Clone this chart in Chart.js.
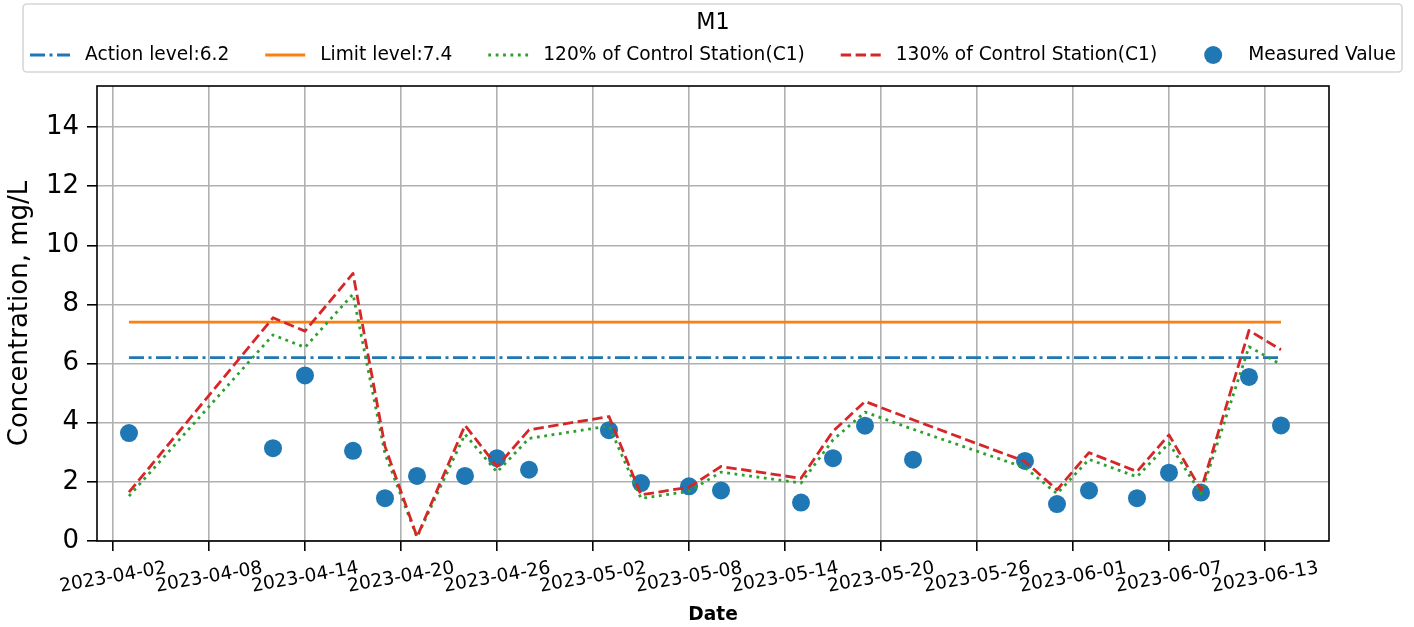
<!DOCTYPE html>
<html>
<head>
<meta charset="utf-8">
<script src="https://cdn.jsdelivr.net/npm/chart.js@4.4.0/dist/chart.umd.min.js"></script>
<style>
html,body{margin:0;padding:0;background:#fff;}
#wrap{width:1414px;height:627px;position:relative;}
</style>
</head>
<body>
<div id="wrap"><canvas id="c" width="1414" height="627"></canvas></div>
<script>
// ---------------- data ----------------
const chartTitle = 'M1';
const xAxisTitle = 'Date';
const yAxisTitle = 'Concentration, mg/L';

const dates = ['2023-04-03','2023-04-12','2023-04-14','2023-04-17','2023-04-19','2023-04-21','2023-04-24','2023-04-26','2023-04-28',
  '2023-05-03','2023-05-05','2023-05-08','2023-05-10','2023-05-15','2023-05-17','2023-05-19','2023-05-22','2023-05-29','2023-05-31',
  '2023-06-02','2023-06-05','2023-06-07','2023-06-09','2023-06-12','2023-06-14'];

const measuredValues = [3.65,3.14,5.60,3.05,1.45,2.20,2.20,2.80,2.41,3.75,1.96,1.85,1.71,1.30,2.80,3.90,2.75,2.71,1.25,1.71,1.45,2.31,1.64,5.55,3.91];

const control120 = [1.52,6.97,6.55,8.35,2.95,0.13,3.61,2.33,3.47,3.89,1.44,1.68,2.33,1.96,3.42,4.36,3.78,2.48,1.60,2.76,2.17,3.31,1.60,6.57,5.97];

const control130 = [1.65,7.55,7.10,9.05,3.20,0.14,3.91,2.52,3.76,4.21,1.56,1.82,2.52,2.12,3.71,4.72,4.10,2.69,1.73,2.99,2.35,3.59,1.73,7.12,6.47];

const actionLevel = 6.2;
const limitLevel = 7.4;

const seriesLabels = ['Action level:6.2','Limit level:7.4','120% of Control Station(C1)','130% of Control Station(C1)','Measured Value'];

const xTickDates = ['2023-04-02','2023-04-08','2023-04-14','2023-04-20','2023-04-26','2023-05-02','2023-05-08',
  '2023-05-14','2023-05-20','2023-05-26','2023-06-01','2023-06-07','2023-06-13'];
const xRange = ['2023-04-01','2023-06-17'];
const yTicks = [0,2,4,6,8,10,12,14];
const yRange = [0, 15.39];

// ---------------- helpers ----------------
const FONT = '"DejaVu Sans", "Liberation Sans", sans-serif';
const DAY = 86400000;
const ORIGIN = Date.UTC(2023,3,2);
const toDay = s => (Date.parse(s + 'T00:00:00Z') - ORIGIN) / DAY;
const pts = vals => dates.map((d,i) => ({x: toDay(d), y: vals[i]}));
const flat = v => [{x: toDay(dates[0]), y: v}, {x: toDay(dates[dates.length-1]), y: v}];

const LW = 2.8;

const customPlugin = {
  id: 'customDraw',
  afterDatasetsDraw(chart) {
    const {ctx, chartArea: a} = chart;
    ctx.save();
    ctx.strokeStyle = '#000';
    ctx.lineWidth = 1.6;
    ctx.strokeRect(a.left, a.top, a.right - a.left, a.bottom - a.top);
    ctx.restore();
  },
  afterDraw(chart) {
    const {ctx, chartArea: a, scales: {x}} = chart;
    // x tick labels (rotated, centered like matplotlib)
    ctx.save();
    ctx.font = '18.6px ' + FONT;
    ctx.fillStyle = '#000';
    ctx.textAlign = 'center';
    ctx.textBaseline = 'middle';
    xTickDates.forEach(d => {
      const px = x.getPixelForValue(toDay(d));
      ctx.save();
      ctx.translate(px, a.bottom + 36.5);
      ctx.rotate(-10 * Math.PI / 180);
      ctx.fillText(d, 0, 0);
      ctx.restore();
    });
    ctx.restore();

    // legend
    const cx = (a.left + a.right) / 2;
    const box = {l: 23, r: 1402, t: 4, b: 72};
    ctx.save();
    ctx.beginPath();
    ctx.roundRect(box.l, box.t, box.r - box.l, box.b - box.t, 4);
    ctx.fillStyle = 'rgba(255,255,255,0.8)';
    ctx.fill();
    ctx.strokeStyle = 'rgba(204,204,204,0.8)';
    ctx.lineWidth = 1.6;
    ctx.stroke();

    ctx.fillStyle = '#000';
    ctx.font = '22.3px ' + FONT;
    ctx.textAlign = 'center';
    ctx.textBaseline = 'middle';
    ctx.fillText(chartTitle, cx, 23);

    ctx.font = '18.6px ' + FONT;
    const handle = 40, pad = 15, gap = 36, itemY = 55;
    const ds = chart.data.datasets;
    const widths = ds.map(d => ctx.measureText(d.label).width);
    let total = widths.reduce((s,w) => s + handle + pad + w, 0) + gap * (ds.length - 1);
    let xx = cx - total / 2;
    ds.forEach((d, i) => {
      if (d.showLine === false) {
        ctx.beginPath();
        ctx.fillStyle = d.pointBackgroundColor;
        ctx.arc(xx + handle / 2, itemY, 9, 0, Math.PI * 2);
        ctx.fill();
      } else {
        ctx.beginPath();
        ctx.setLineDash(d.borderDash || []);
        ctx.strokeStyle = d.borderColor;
        ctx.lineWidth = LW;
        ctx.lineCap = 'butt';
        ctx.moveTo(xx, itemY);
        ctx.lineTo(xx + handle, itemY);
        ctx.stroke();
        ctx.setLineDash([]);
      }
      ctx.fillStyle = '#000';
      ctx.textAlign = 'left';
      ctx.fillText(d.label, xx + handle + pad, itemY);
      xx += handle + pad + widths[i] + gap;
    });
    ctx.restore();
  }
};

const gridOpts = {color: '#b0b0b0', lineWidth: 1.6, tickColor: '#000', tickLength: 10, tickWidth: 1.6, drawTicks: true};

new Chart(document.getElementById('c').getContext('2d'), {
  type: 'line',
  data: {
    datasets: [
      {label: seriesLabels[0], data: flat(actionLevel), borderColor: '#1f77b4', borderDash: [15,4.5,3,4.5], borderWidth: LW, pointRadius: 0, order: 4, borderJoinStyle: 'round'},
      {label: seriesLabels[1], data: flat(limitLevel), borderColor: '#ff7f0e', borderWidth: LW, pointRadius: 0, order: 3, borderJoinStyle: 'round'},
      {label: seriesLabels[2], data: pts(control120), borderColor: '#2ca02c', borderDash: [2.8,4.6], borderWidth: LW, pointRadius: 0, order: 2, borderJoinStyle: 'round'},
      {label: seriesLabels[3], data: pts(control130), borderColor: '#d62728', borderDash: [10.4,4.5], borderWidth: LW, pointRadius: 0, order: 1, borderJoinStyle: 'round'},
      {label: seriesLabels[4], data: pts(measuredValues), showLine: false, pointRadius: 9, pointHoverRadius: 9, pointBackgroundColor: '#1f77b4', pointBorderWidth: 0, borderColor: '#1f77b4', order: 10}
    ]
  },
  options: {
    responsive: false,
    animation: false,
    devicePixelRatio: 1,
    layout: {padding: {top: 86, right: 85, left: 0, bottom: 0}},
    plugins: {legend: {display: false}, title: {display: false}, tooltip: {enabled: false}},
    elements: {line: {tension: 0}},
    scales: {
      x: {
        type: 'linear',
        min: toDay(xRange[0]),
        max: toDay(xRange[1]),
        afterBuildTicks: s => { s.ticks = xTickDates.map(d => ({value: toDay(d)})); },
        afterFit: s => { s.height = 86; },
        ticks: {display: false},
        grid: gridOpts,
        border: {display: false},
        title: {display: true, text: xAxisTitle, color: '#000', font: {family: FONT, size: 18.6, weight: 'bold', lineHeight: 1.2}, padding: {top: 0, bottom: 1}}
      },
      y: {
        type: 'linear',
        min: yRange[0],
        max: yRange[1],
        afterBuildTicks: s => { s.ticks = yTicks.map(v => ({value: v})); },
        afterFit: s => { s.width = 97; },
        ticks: {color: '#000', padding: 8, font: {family: FONT, size: 26}, callback: v => String(v)},
        grid: gridOpts,
        border: {display: false},
        title: {display: true, text: yAxisTitle, color: '#000', font: {family: FONT, size: 26, lineHeight: 1.2}, padding: {top: 5, bottom: 0}}
      }
    }
  },
  plugins: [customPlugin]
});
</script>
</body>
</html>
